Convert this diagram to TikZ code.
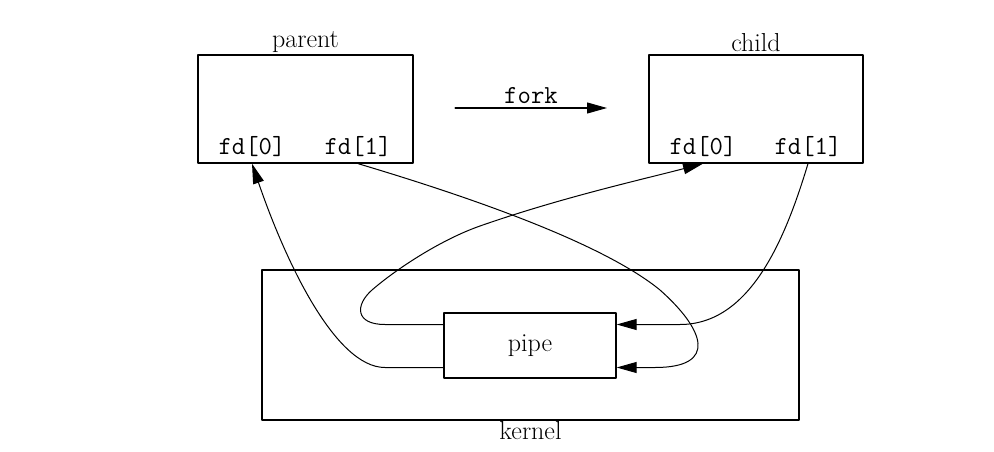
\documentclass[tikz,border=0pt]{standalone}
\usepackage{fontspec}
\usetikzlibrary{arrows.meta,positioning,calc}
\begin{document}
\begin{tikzpicture}[x=1pt,y=-1pt,line join=round,line cap=round,
	arr/.style={-{Triangle[length=20pt,width=11pt]},line width=1pt},
	box/.style={draw,line width=1.3pt,inner sep=0pt},
	lbl/.style={font=\fontsize{26}{30}\selectfont,inner sep=1pt},
	fdlbl/.style={font=\fontsize{26}{30}\selectfont\ttfamily,inner sep=1pt}]
	\def \picw{994};
	\def \pich{452};
	\useasboundingbox (0,0) rectangle (\picw,\pich);
	% processes
	\node[box,minimum width=215pt,minimum height=108pt] (parent) at (305.5,109) {};
	\node[box,minimum width=214pt,minimum height=108pt] (child) at (756,109) {};
	\node[lbl,above=1pt of parent] (parentlbl) {parent};
	\node[lbl,above=1pt of child] (childlbl) {child};
	\node[fdlbl] (pfd0) at (252,147) {fd[0]};
	\node[fdlbl] (pfd1) at (358,147) {fd[1]};
	\node[fdlbl] (cfd0) at (703,147) {fd[0]};
	\node[fdlbl] (cfd1) at (808,147) {fd[1]};
	% fork
	\coordinate (forkA) at (455,108);
	\coordinate (forkB) at (607,108);
	\draw[arr] (forkA) -- (forkB) node[fdlbl,midway,above=3pt] (forklbl) {fork};
	% kernel and pipe
	\node[box,minimum width=537pt,minimum height=150pt] (kernel) at (530.5,345) {};
	\node[lbl,below=0pt of kernel] (kernellbl) {kernel};
	\node[box,minimum width=172pt,minimum height=65pt,lbl] (pipe) at (530,345.5) {pipe};
	% connections
	\draw[arr] ([yshift=-22pt]pipe.west) -- (385,367.5) .. controls (335,367.5) and (285,260) .. (pfd0 |- parent.south);
	\draw[arr] ([yshift=21pt]pipe.west) -- (385,324.5) .. controls (355,324.5) and (355,305) .. (372,290)
		.. controls (395,270) and (440,240) .. (480,226)
		.. controls (560,198) and (640,180) .. (cfd0 |- child.south);
	\draw[arr] (cfd1 |- child.south) .. controls (785,240) and (750,324.5) .. (680,324.5) -- ([yshift=21pt]pipe.east);
	\draw[arr] (pfd1 |- parent.south) .. controls (480,200) and (605,245) .. (660,290)
		.. controls (705,330) and (718,367.5) .. (655,367.5) -- ([yshift=-22pt]pipe.east);
\end{tikzpicture}
\end{document}
